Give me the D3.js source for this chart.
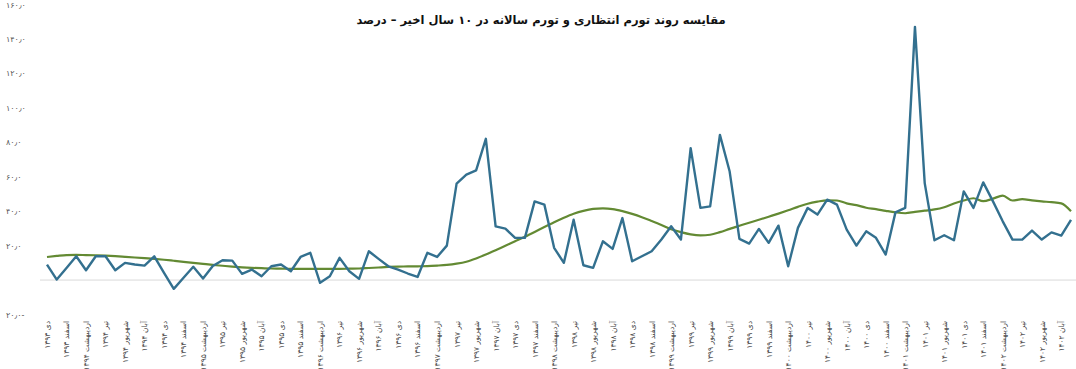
<!DOCTYPE html>
<html lang="fa">
<head>
<meta charset="utf-8">
<script src="https://cdn.jsdelivr.net/npm/d3@7"></script>
<style>
  html, body { margin: 0; padding: 0; background: #fff; }
  svg { display: block; font-family: 'DejaVu Sans', sans-serif; }
</style>
</head>
<body>
<div class="canvas"></div>
<script>
const title = 'مقایسه روند تورم انتظاری و تورم سالانه در ۱۰ سال اخیر – درصد';

// monthly series, Dey 1393 onward
const expected = [
  9, 0.3, 7, 13.8, 5.7, 13.8, 13.8, 5.7, 10, 9, 8.4, 13.8, 4.2, -5.1, 1.3, 7.7, 0.9, 8.2,
  11.5, 11.3, 3.6, 6.1, 2.2, 8, 9, 5.1, 13.4, 15.8, -1.6, 2.2, 12.9, 5.1, 0.7, 16.7, 12.3, 8,
  6.1, 3.8, 1.8, 15.8, 13.4, 20, 56, 61.2, 63.7, 82, 31.2, 29.9, 24.5, 24.5, 45.7, 43.8, 18.7, 10,
  35, 8.6, 7.1, 22.5, 18.1, 36, 10.9, 13.8, 16.7, 23.5, 31.2, 23.5, 76.6, 41.9, 42.8, 84.3, 63,
  23.9, 21.2, 29.7, 21.6, 31.6, 8, 30.3, 41.9, 38, 46.7, 43.8, 29.3, 20, 28.3, 24.5, 14.8, 39.3, 41.9,
  147, 56.3, 23.1, 26, 23.1, 51.5, 41.9, 56.7, 45.7, 34.1, 23.5, 23.5, 28.7, 23.5, 27.7, 25.8, 35
];

const annual = [
  13.4, 14.0, 14.5, 14.6, 14.5, 14.4, 14.2, 13.9, 13.5, 13.1, 12.7, 12.3, 11.8, 11.2, 10.6, 10.0, 9.4, 8.8,
  8.3, 7.8, 7.4, 7.1, 6.9, 6.7, 6.6, 6.5, 6.5, 6.5, 6.5, 6.5, 6.5, 6.6, 6.7, 7.0, 7.3, 7.6,
  7.8, 7.9, 8.0, 8.1, 8.4, 8.8, 9.5, 10.6, 12.5, 14.8, 17.3, 19.9, 22.5, 25.1, 27.9, 30.8, 33.6, 36.2,
  38.5, 40.2, 41.3, 41.6, 41.2, 40.0, 38.4, 36.5, 34.3, 32.0, 29.5, 27.8, 26.5, 25.9, 26.3, 27.8, 29.7,
  31.5, 33.3, 35.0, 36.8, 38.6, 40.5, 42.5, 44.3, 45.5, 46.3, 46.2, 44.5, 43.5, 42.0, 41.2, 40.2, 39.3, 38.8,
  39.6, 40.3, 41.0, 42.3, 44.5, 46.2, 47.5, 45.8, 47.3, 49.0, 46.2, 47.0, 46.3, 45.7, 45.2, 44.5, 39.9
];

// every second month is labelled
const tickLabels = [
  'دی ۱۳۹۳', 'اسفند ۱۳۹۳',
  'اردیبهشت ۱۳۹۴', 'تیر ۱۳۹۴', 'شهریور ۱۳۹۴', 'آبان ۱۳۹۴', 'دی ۱۳۹۴', 'اسفند ۱۳۹۴',
  'اردیبهشت ۱۳۹۵', 'تیر ۱۳۹۵', 'شهریور ۱۳۹۵', 'آبان ۱۳۹۵', 'دی ۱۳۹۵', 'اسفند ۱۳۹۵',
  'اردیبهشت ۱۳۹۶', 'تیر ۱۳۹۶', 'شهریور ۱۳۹۶', 'آبان ۱۳۹۶', 'دی ۱۳۹۶', 'اسفند ۱۳۹۶',
  'اردیبهشت ۱۳۹۷', 'تیر ۱۳۹۷', 'شهریور ۱۳۹۷', 'آبان ۱۳۹۷', 'دی ۱۳۹۷', 'اسفند ۱۳۹۷',
  'اردیبهشت ۱۳۹۸', 'تیر ۱۳۹۸', 'شهریور ۱۳۹۸', 'آبان ۱۳۹۸', 'دی ۱۳۹۸', 'اسفند ۱۳۹۸',
  'اردیبهشت ۱۳۹۹', 'تیر ۱۳۹۹', 'شهریور ۱۳۹۹', 'آبان ۱۳۹۹', 'دی ۱۳۹۹', 'اسفند ۱۳۹۹',
  'اردیبهشت ۱۴۰۰', 'تیر ۱۴۰۰', 'شهریور ۱۴۰۰', 'آبان ۱۴۰۰', 'دی ۱۴۰۰', 'اسفند ۱۴۰۰',
  'اردیبهشت ۱۴۰۱', 'تیر ۱۴۰۱', 'شهریور ۱۴۰۱', 'دی ۱۴۰۱', 'اسفند ۱۴۰۱',
  'اردیبهشت ۱۴۰۲', 'تیر ۱۴۰۲', 'شهریور ۱۴۰۲', 'آبان ۱۴۰۲'
];

const yTicks = [-20, 20, 40, 60, 80, 100, 120, 140, 160];

const width = 1076;
const height = 369;
const margin = { top: 4.5, left: 47, right: 5, bottomY: 314.5 };

const toFa = s => s.replace(/\d/g, d => '۰۱۲۳۴۵۶۷۸۹'[d]);
const fmtY = v => v < 0 ? toFa(`${-v}٫۰`) + '-' : toFa(`${v}٫۰`);

const svg = d3.select('.canvas')
  .append('svg')
  .attr('width', width)
  .attr('height', height);

const x = d3.scalePoint()
  .domain(d3.range(expected.length))
  .range([margin.left, width - margin.right]);

const y = d3.scaleLinear()
  .domain([-20, 160])
  .range([margin.bottomY, margin.top]);

svg.append('text')
  .attr('x', 541)
  .attr('y', 24)
  .attr('text-anchor', 'middle')
  .attr('direction', 'rtl')
  .attr('font-size', 11.5)
  .attr('font-weight', 'bold')
  .attr('fill', '#111')
  .text(title);

// y labels, no axis line
svg.append('g')
  .selectAll('text')
  .data(yTicks)
  .join('text')
  .attr('x', 6)
  .attr('y', d => y(d) + 3)
  .attr('font-size', 8)
  .attr('fill', '#555')
  .text(fmtY);

svg.append('line')
  .attr('x1', 40)
  .attr('x2', width)
  .attr('y1', y(0))
  .attr('y2', y(0))
  .attr('stroke', '#d9d9d9')
  .attr('stroke-width', 1);

const xAxis = d3.axisBottom(x)
  .tickValues(d3.range(0, expected.length, 2))
  .tickSize(0)
  .tickFormat(d => tickLabels[d / 2]);

svg.append('g')
  .attr('transform', `translate(0, 321)`)
  .call(xAxis)
  .call(g => g.select('.domain').remove())
  .selectAll('text')
  .attr('font-family', 'DejaVu Sans, sans-serif')
  .attr('font-size', 7.5)
  .attr('fill', '#444')
  .attr('text-anchor', 'end')
  .attr('dy', '0.32em')
  .attr('transform', 'rotate(-90)')
  .attr('x', 0)
  .attr('y', 0);

const line = d3.line()
  .x((d, i) => x(i))
  .y(d => y(d));

svg.append('path')
  .datum(annual)
  .attr('fill', 'none')
  .attr('stroke', '#638a33')
  .attr('stroke-width', 2.2)
  .attr('stroke-linejoin', 'round')
  .attr('d', line.curve(d3.curveMonotoneX));

svg.append('path')
  .datum(expected)
  .attr('fill', 'none')
  .attr('stroke', '#33708f')
  .attr('stroke-width', 2.4)
  .attr('stroke-linejoin', 'round')
  .attr('d', line.curve(d3.curveLinear));
</script>
</body>
</html>
